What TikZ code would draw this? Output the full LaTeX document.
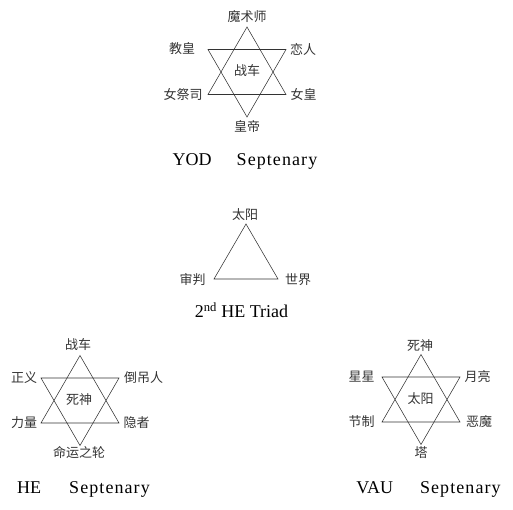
\documentclass[tikz,border=0pt]{standalone}
\usepackage{fontspec}
\setmainfont{Liberation Serif}
\newfontfamily\cjk{Noto Sans CJK SC}

\tikzset{
  starline/.style={draw=black!80, line width=0.55pt},
  card/.style={font=\cjk\fontsize{13}{13}\selectfont, inner sep=0pt, text=black!80},
  caption/.style={font=\fontsize{18}{18}\selectfont, inner sep=0pt, anchor=base},
}
\newcommand{\septword}{{\addfontfeature{LetterSpace=6}Septenary}}

\begin{document}
\begin{tikzpicture}[x=1pt, y=-1pt]
  \useasboundingbox (0,0) rectangle (513,510);

  % Hexagram corners for the three septenaries
  \foreach \s/\cx/\cy in {y/247/72, h/80/400.5, v/421/399.5} {
    \coordinate (\s T)  at (\cx, \cy-45);
    \coordinate (\s BL) at (\cx-39, \cy+22.5);
    \coordinate (\s BR) at (\cx+39, \cy+22.5);
    \coordinate (\s B)  at (\cx, \cy+45);
    \coordinate (\s TL) at (\cx-39, \cy-22.5);
    \coordinate (\s TR) at (\cx+39, \cy-22.5);
    \draw[starline] (\s T) -- (\s BL) -- (\s BR) -- cycle;
    \draw[starline] (\s B) -- (\s TL) -- (\s TR) -- cycle;
  }

  % YOD septenary labels
  \node[card] (yod1) at (247, 16.5)  {魔术师};
  \node[card] (yod2) at (182, 49)    {教皇};
  \node[card] (yod3) at (303, 49)    {恋人};
  \node[card] (yod4) at (183, 94.5)  {女祭司};
  \node[card] (yod5) at (303.5, 94.5) {女皇};
  \node[card] (yod6) at (247, 126.5) {皇帝};
  \node[card] (yod7) at (247, 71)    {战车};
  \node[caption] (yodcap) at (245, 166) {YOD\hspace{25pt}\septword};

  % 2nd HE triad
  \coordinate (tT) at (246, 224);
  \coordinate (tL) at (214, 279);
  \coordinate (tR) at (278, 279);
  \draw[starline] (tT) -- (tL) -- (tR) -- cycle;
  \node[card] (tri1) at (245, 215)   {太阳};
  \node[card] (tri2) at (192.5, 280) {审判};
  \node[card] (tri3) at (298, 280)   {世界};
  \node[caption] (tricap) at (241.5, 317.5) {2\textsuperscript{nd} HE Triad};

  % HE septenary labels
  \node[card] (he1) at (78, 345)    {战车};
  \node[card] (he2) at (24, 378)    {正义};
  \node[card] (he3) at (143.5, 378) {倒吊人};
  \node[card] (he4) at (24, 423)    {力量};
  \node[card] (he5) at (136.5, 423) {隐者};
  \node[card] (he6) at (79, 453)    {命运之轮};
  \node[card] (he7) at (79, 400)    {死神};
  \node[caption] (hecap) at (83.5, 493) {HE\hspace{28pt}\septword};

  % VAU septenary labels
  \node[card] (vau1) at (420, 346)   {死神};
  \node[card] (vau2) at (361.5, 377) {星星};
  \node[card] (vau3) at (477.5, 377) {月亮};
  \node[card] (vau4) at (361.5, 422) {节制};
  \node[card] (vau5) at (479, 422)   {恶魔};
  \node[card] (vau6) at (421, 453)   {塔};
  \node[card] (vau7) at (420.5, 398.5) {太阳};
  \node[caption] (vaucap) at (428.5, 493) {VAU\hspace{27pt}\septword};
\end{tikzpicture}
\end{document}
